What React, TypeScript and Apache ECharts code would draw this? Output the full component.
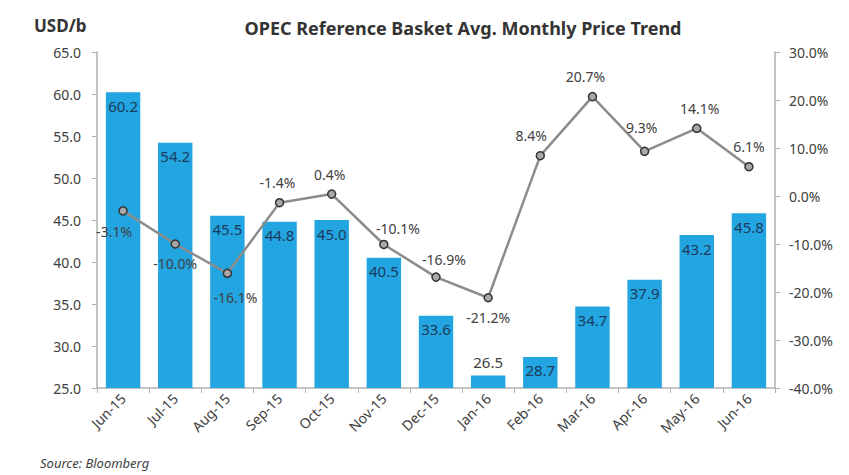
import React, { useEffect, useRef } from "react";
import * as echarts from "echarts";

const categories = ["Jun-15", "Jul-15", "Aug-15", "Sep-15", "Oct-15", "Nov-15", "Dec-15", "Jan-16", "Feb-16", "Mar-16", "Apr-16", "May-16", "Jun-16"];
const prices = [60.2, 54.2, 45.5, 44.8, 45.0, 40.5, 33.6, 26.5, 28.7, 34.7, 37.9, 43.2, 45.8];
const changes = [-3.1, -10.0, -16.1, -1.4, 0.4, -10.1, -16.9, -21.2, 8.4, 20.7, 9.3, 14.1, 6.1];
const labelPos = ["bottom", "bottom", "bottom", "top", "top", "top", "top", "bottom", "top", "top", "top", "top", "top"];
const labelOff = [[-9, 1], [0, 0], [8, 4], [-2, 0], [-2, 0], [14, 4], [8, 2], [0, 0], [-9, 0], [-7, 0], [-3, -4], [3, 0], [0, 0]];

const FONT = "'Noto Sans', 'Open Sans', sans-serif";

export default function App() {
  const ref = useRef<HTMLDivElement>(null);
  useEffect(() => {
    document.body.style.margin = "0";
    if (!ref.current) return;
    const chart = echarts.init(ref.current, null, { renderer: "svg" });
    chart.setOption({
      animation: false,
      backgroundColor: "#ffffff",
      textStyle: { fontFamily: FONT },
      title: {
        text: "OPEC Reference Basket Avg. Monthly Price Trend",
        left: 458,
        textAlign: "center",
        top: 14,
        textStyle: { fontSize: 18, fontWeight: "bold", color: "#333333", fontFamily: FONT },
      },
      graphic: [
        { type: "text", left: 34, top: 17, style: { text: "USD/b", font: `bold 17px ${FONT}`, fill: "#333333" } },
        { type: "text", left: 40, top: 456, style: { text: "Source: Bloomberg", font: `italic 13px ${FONT}`, fill: "#404040" } },
      ],
      grid: { left: 97, right: 74, top: 52, bottom: 87 },
      xAxis: {
        type: "category",
        data: categories,
        axisLine: { onZero: false, lineStyle: { color: "#b0b0b0", width: 1.5 } },
        axisTick: { show: true, lineStyle: { color: "#b0b0b0" } },
        axisLabel: { rotate: 45, fontSize: 14, color: "#404040", margin: 8, interval: 0 },
      },
      yAxis: [
        {
          type: "value",
          min: 25,
          max: 65,
          interval: 5,
          splitLine: { show: false },
          axisLine: { show: true, lineStyle: { color: "#b0b0b0", width: 1.5 } },
          axisTick: { show: true, lineStyle: { color: "#b0b0b0" } },
          axisLabel: { fontSize: 14, color: "#404040", formatter: (v: number) => v.toFixed(1), margin: 16 },
        },
        {
          type: "value",
          min: -40,
          max: 30,
          interval: 10,
          splitLine: { show: false },
          axisLine: { show: true, lineStyle: { color: "#b0b0b0", width: 1.5 } },
          axisTick: { show: true, lineStyle: { color: "#b0b0b0" } },
          axisLabel: { fontSize: 14, color: "#404040", formatter: (v: number) => v.toFixed(1) + "%", margin: 14 },
        },
      ],
      series: [
        {
          type: "bar",
          data: prices.map((v) => (v < 27 ? { value: v, label: { position: "top", color: "#404040" } } : v)),
          barCategoryGap: "34%",
          itemStyle: { color: "#22a5e0" },
          label: {
            show: true,
            position: "insideTop",
            distance: 6,
            fontSize: 15,
            color: "#1d3b5e",
            formatter: (p: any) => p.value.toFixed(1),
          },
        },
        {
          type: "line",
          yAxisIndex: 1,
          data: changes.map((v, i) => ({
            value: v,
            label: { position: labelPos[i], offset: labelOff[i] },
          })),
          lineStyle: { color: "#8c8c8c", width: 2.5 },
          symbol: "circle",
          symbolSize: 8,
          itemStyle: { color: "#a8a8a8", borderColor: "#333333", borderWidth: 1.5 },
          label: {
            show: true,
            fontSize: 14,
            color: "#404040",
            distance: 8,
            formatter: (p: any) => p.value.toFixed(1) + "%",
          },
        },
      ],
    });
    return () => chart.dispose();
  }, []);
  return <div ref={ref} style={{ width: 849, height: 475 }} />;
}
